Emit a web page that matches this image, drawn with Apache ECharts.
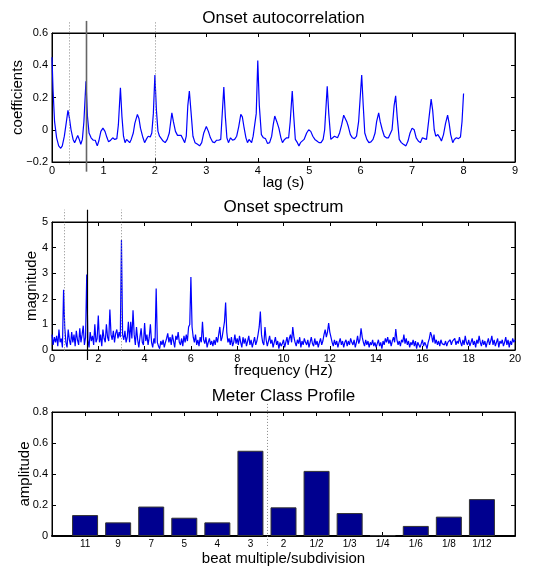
<!DOCTYPE html>
<html>
<head>
<meta charset="utf-8">
<script src="https://cdn.jsdelivr.net/npm/echarts@6/dist/echarts.min.js"></script>
<style>html,body{margin:0;padding:0;background:#fff}#c{width:542px;height:567px}</style>
</head>
<body>
<div id="c"></div>
<script>
// ---- Onset autocorrelation (lag in s, coefficient) ----
const acLag = [0.00,0.02,0.05,0.09,0.13,0.17,0.20,0.24,0.28,0.31,0.34,0.37,0.41,0.44,0.47,0.50,0.53,0.56,0.59,0.62,0.66,0.69,0.72,0.76,0.80,0.84,0.88,0.91,0.95,0.99,
1.03,1.07,1.10,1.14,1.18,1.22,1.26,1.29,1.33,1.36,1.39,1.42,1.45,1.48,1.51,1.54,1.58,1.61,1.66,1.69,1.72,1.76,1.80,1.84,1.87,1.91,1.94,1.97,2.00,
2.03,2.06,2.09,2.12,2.16,2.20,2.24,2.28,2.33,2.36,2.40,2.44,2.47,2.51,2.55,2.58,2.61,2.64,2.67,2.70,2.74,2.78,2.83,2.87,2.91,2.95,3.00,
3.04,3.08,3.12,3.16,3.20,3.24,3.28,3.30,3.34,3.37,3.40,3.43,3.47,3.51,3.55,3.59,3.63,3.67,3.70,3.73,3.77,3.80,3.83,3.86,3.88,3.91,3.94,3.97,4.00,
4.03,4.07,4.11,4.15,4.19,4.23,4.27,4.30,4.33,4.37,4.41,4.45,4.48,4.52,4.56,4.60,4.63,4.67,4.70,4.73,4.77,4.80,4.83,4.86,4.90,4.95,4.99,
5.03,5.07,5.11,5.15,5.19,5.23,5.27,5.30,5.35,5.38,5.42,5.45,5.49,5.52,5.55,5.59,5.63,5.67,5.70,5.73,5.76,5.80,5.84,5.88,5.92,5.96,6.02,
6.05,6.08,6.12,6.16,6.20,6.24,6.28,6.31,6.35,6.38,6.42,6.46,6.50,6.54,6.57,6.61,6.65,6.68,6.71,6.75,6.79,6.83,6.88,6.92,6.96,7.00,
7.04,7.08,7.12,7.16,7.20,7.24,7.28,7.32,7.37,7.40,7.43,7.46,7.50,7.54,7.57,7.61,7.65,7.69,7.72,7.75,7.79,7.82,7.86,7.90,7.94,7.97,8.00];
const acCoef = [0.45,0.25,0.05,-0.05,-0.10,-0.115,-0.10,-0.04,0.05,0.12,0.07,0.0,-0.06,-0.08,-0.075,-0.035,-0.06,-0.09,-0.06,0.05,0.30,0.08,-0.02,-0.05,-0.065,-0.065,-0.10,-0.07,-0.01,0.01,
-0.01,-0.05,-0.075,-0.065,-0.05,-0.06,-0.055,0.03,0.26,0.08,-0.04,-0.08,-0.06,-0.05,-0.08,-0.06,-0.02,0.04,0.095,0.07,0.01,-0.04,-0.08,-0.055,-0.04,-0.045,-0.02,0.10,0.34,
0.12,-0.01,-0.04,-0.05,-0.07,-0.08,-0.06,-0.02,0.105,0.05,-0.01,-0.035,-0.04,-0.035,-0.06,-0.08,-0.04,0.15,0.24,0.12,-0.04,-0.08,-0.09,-0.10,-0.08,-0.02,0.02,
-0.01,-0.05,-0.075,-0.08,-0.065,-0.065,-0.06,0.05,0.265,0.08,-0.05,-0.08,-0.05,-0.065,-0.06,-0.04,0.02,0.095,0.08,0.02,-0.05,-0.08,-0.06,-0.05,-0.08,-0.04,-0.05,0.10,0.43,
0.15,-0.03,-0.05,-0.055,-0.085,-0.08,-0.04,0.03,0.085,0.05,0.01,-0.05,-0.08,-0.06,-0.05,-0.05,0.05,0.24,0.08,-0.06,-0.08,-0.10,-0.08,-0.09,-0.06,-0.02,0.0,
-0.01,-0.04,-0.06,-0.07,-0.08,-0.08,-0.06,0.0,0.27,0.10,-0.06,-0.07,-0.04,-0.05,-0.05,-0.02,0.03,0.09,0.09,0.05,0.02,-0.03,-0.05,-0.055,-0.04,0.05,0.34,
0.15,-0.02,-0.06,-0.08,-0.075,-0.06,-0.02,0.05,0.105,0.05,0.0,-0.04,-0.05,-0.05,-0.06,0.0,0.15,0.21,0.08,-0.06,-0.08,-0.09,-0.10,-0.07,-0.02,0.01,
0.0,-0.05,-0.07,-0.08,-0.05,-0.055,-0.06,0.05,0.19,0.12,0.0,-0.04,-0.03,-0.05,-0.07,-0.03,0.04,0.09,0.04,-0.03,-0.08,-0.06,-0.05,-0.055,-0.045,0.05,0.225];
const acMarkerLags = [0.333, 2.0];   // dotted
const acBeatLag = 0.66;              // solid

// ---- Onset spectrum (0..20 Hz, step 0.05 Hz) ----
const specStep = 0.05;
const specMag = [
0.6,0.2,0.5,0.3,0.55,0.15,0.8,0.3,0.45,0.1,2.35,0.9,0.3,0.1,0.8,0.4,0.2,0.7,0.3,0.6,
0.15,0.75,0.4,0.2,0.85,0.3,0.6,0.95,0.2,0.5,2.95,0.4,0.1,0.7,0.35,0.55,0.2,1.0,0.3,0.45,
1.35,0.3,0.6,0.15,0.8,0.45,0.3,1.0,0.5,0.35,1.58,0.6,0.4,0.75,0.3,0.65,0.8,0.45,0.7,0.5,
4.3,0.6,0.4,0.75,0.3,0.5,1.1,0.3,1.1,0.45,1.55,0.6,0.2,0.9,0.4,0.1,0.5,0.85,0.3,0.2,
1.05,0.35,0.6,0.2,0.5,1.0,0.3,0.1,0.45,0.25,2.4,0.3,0.15,0.05,0.35,0.2,0.4,0.1,0.3,0.45,
0.65,0.3,0.5,0.2,0.6,0.35,0.1,0.55,0.4,0.7,0.3,0.2,0.45,0.15,0.55,0.3,0.6,0.35,0.9,1.0,
2.85,0.9,0.5,0.3,0.6,0.2,0.4,0.15,0.5,0.3,1.1,0.4,0.25,0.5,0.1,0.3,0.45,0.2,0.35,0.15,
0.4,0.2,0.5,0.3,0.6,0.9,0.35,0.5,0.8,1.1,1.85,0.7,0.3,0.45,0.2,0.5,0.15,0.3,0.6,0.25,
0.45,0.2,0.55,0.3,0.1,0.5,0.25,0.45,0.15,0.35,0.55,0.2,0.4,0.1,0.3,0.5,0.2,0.35,0.6,0.9,
1.5,0.6,0.3,0.2,0.9,0.4,0.15,0.35,0.55,0.25,0.4,0.1,0.3,0.5,0.2,0.35,0.05,0.3,0.15,0.25,
0.4,0.1,0.3,0.5,0.2,0.45,0.6,0.3,0.9,0.5,0.3,0.15,0.4,0.25,0.5,0.1,0.35,0.2,0.45,0.3,
0.2,0.4,0.1,0.3,0.5,0.25,0.15,0.45,0.2,0.35,0.1,0.3,0.45,0.2,0.35,0.6,0.8,0.5,0.7,1.05,
0.7,0.5,0.3,0.15,0.4,0.2,0.35,0.1,0.3,0.45,0.2,0.35,0.1,0.3,0.4,0.15,0.35,0.2,0.45,0.3,
0.2,0.4,0.1,0.3,0.55,0.25,0.4,0.85,0.5,0.3,0.15,0.4,0.2,0.35,0.1,0.3,0.2,0.4,0.15,0.3,
0.1,0.25,0.4,0.15,0.3,0.05,0.35,0.2,0.45,0.3,0.5,0.25,0.4,0.15,0.35,0.5,0.3,0.82,0.4,0.2,
0.35,0.15,0.4,0.3,0.6,0.25,0.45,0.2,0.35,0.1,0.3,0.2,0.4,0.15,0.35,0.05,0.3,0.2,0.1,0.25,
0.4,0.15,0.3,0.2,0.05,0.3,0.45,0.7,0.55,0.3,0.6,0.25,0.4,0.2,0.35,0.15,0.4,0.25,0.3,0.2,
0.35,0.15,0.3,0.25,0.4,0.2,0.35,0.3,0.45,0.2,0.35,0.25,0.5,0.3,0.15,0.4,0.2,0.55,0.3,0.2,
0.4,0.15,0.3,0.45,0.2,0.35,0.1,0.4,0.25,0.55,0.3,0.15,0.4,0.2,0.35,0.1,0.3,0.45,0.2,0.35,
0.55,0.2,0.4,0.15,0.3,0.45,0.1,0.35,0.25,0.4,0.15,0.3,0.5,0.2,0.4,0.1,0.35,0.2,0.45,0.3,
0.4];
const specMarkerFreqs = [0.5, 3.0];  // dotted
const specBeatFreq = 1.5;            // solid

// ---- Meter Class Profile ----
const meterLabels = ['11','9','7','5','4','3','2','1/2','1/3','1/4','1/6','1/8','1/12'];
const meterAmp = [0.135,0.088,0.19,0.118,0.088,0.55,0.185,0.42,0.148,0.005,0.065,0.125,0.238];
const meterDivider = 6.5;

const FONT = 'Liberation Sans, Arial, Helvetica, sans-serif';
const GL = 52, GW = 463;
const grids = [
  {left: GL, top: 33, width: GW, height: 129},
  {left: GL, top: 222, width: GW, height: 128},
  {left: GL, top: 412, width: GW, height: 125}
].map(g => Object.assign(g, {show: true, borderColor: '#000', borderWidth: 1, backgroundColor: 'transparent'}));

const minusFmt = v => String(+v.toFixed(2)).replace('-', '\u2212');
const lbl = {color: '#000', fontSize: 11, fontFamily: FONT};
const tick = {show: true, inside: true, length: 4, lineStyle: {color: '#000', width: 1}};
const axLine = {show: true, onZero: false, lineStyle: {color: '#000', width: 1}};
const nameStyle = {color: '#000', fontSize: 15, fontFamily: FONT};
const titleStyle = {color: '#000', fontSize: 17, fontFamily: FONT};

function xPair(gi, min, max, interval, name, nameGap, title, titleGap, fmt) {
  return [
    {type: 'value', gridIndex: gi, min, max, interval, position: 'bottom',
     axisLine: axLine, axisTick: tick, splitLine: {show: false},
     axisLabel: Object.assign({}, lbl, {margin: 3}, fmt ? {formatter: fmt} : {}),
     name, nameLocation: 'middle', nameGap, nameMoveOverlap: false, nameTextStyle: nameStyle},
    {type: 'value', gridIndex: gi, min, max, interval, position: 'top',
     axisLine: axLine, axisTick: tick, splitLine: {show: false}, axisLabel: {show: false},
     name: title, nameLocation: 'middle', nameGap: titleGap, nameMoveOverlap: false, nameTextStyle: titleStyle}
  ];
}
function yPair(gi, min, max, interval, name, nameGap, fmt) {
  return [
    {type: 'value', gridIndex: gi, min, max, interval, position: 'left',
     axisLine: axLine, axisTick: tick, splitLine: {show: false},
     axisLabel: Object.assign({}, lbl, {margin: 4, formatter: fmt || (v => String(v))}),
     name, nameLocation: 'middle', nameGap, nameMoveOverlap: false, nameTextStyle: nameStyle},
    {type: 'value', gridIndex: gi, min, max, interval, position: 'right',
     axisLine: axLine, axisTick: tick, splitLine: {show: false}, axisLabel: {show: false}}
  ];
}

function vLine(xi, yi, xv, y0, y1, color, width, dash) {
  return {
    type: 'custom', xAxisIndex: xi, yAxisIndex: yi, clip: false, silent: true, z: 5,
    data: [[xv, y0, y1]],
    renderItem: (p, api) => {
      const a = api.coord([api.value(0), api.value(1)]);
      const b = api.coord([api.value(0), api.value(2)]);
      return {type: 'line', shape: {x1: Math.round(a[0]) + 0.5, y1: a[1], x2: Math.round(a[0]) + 0.5, y2: b[1]},
        style: {stroke: color, lineWidth: width, lineDash: dash}};
    }
  };
}

const xAxis = [
  ...xPair(0, 0, 9, 1, 'lag (s)', 13, 'Onset autocorrelation', 6),
  ...xPair(1, 0, 20, 2, 'frequency (Hz)', 13, 'Onset spectrum', 6),
  ...xPair(2, 0, 14, 1, 'beat multiple/subdivision', 15, 'Meter Class Profile', 7,
           v => (v >= 1 && v <= meterLabels.length) ? meterLabels[v - 1] : '')
];
xAxis[4].axisLine = {show: true, onZero: false, lineStyle: {color: '#000', width: 2}};
xAxis[4].axisLabel.fontSize = 10;

const yAxis = [
  ...yPair(0, -0.2, 0.6, 0.2, 'coefficients', 27, minusFmt),
  ...yPair(1, 0, 5, 1, 'magnitude', 13),
  ...yPair(2, 0, 0.8, 0.2, 'amplitude', 20, minusFmt)
];

const series = [
  {type: 'line', xAxisIndex: 0, yAxisIndex: 0, showSymbol: false, silent: true,
   data: acLag.map((t, i) => [t, acCoef[i]]),
   lineStyle: {color: '#0000ff', width: 1.2}, itemStyle: {color: '#0000ff'}},
  {type: 'line', xAxisIndex: 2, yAxisIndex: 2, showSymbol: false, silent: true,
   data: specMag.map((m, i) => [i * specStep, m]),
   lineStyle: {color: '#0000ff', width: 1.2}, itemStyle: {color: '#0000ff'}},
  {type: 'bar', xAxisIndex: 4, yAxisIndex: 4, silent: true, barWidth: 26,
   data: meterAmp.map((a, i) => [i + 1, a]),
   itemStyle: {color: '#00008f', borderColor: '#333', borderWidth: 1}},
  ...acMarkerLags.map(l => vLine(0, 0, l, -0.215, 0.675, '#888', 1, [1, 2])),
  vLine(0, 0, acBeatLag, -0.26, 0.675, '#666', 1.6, null),
  ...specMarkerFreqs.map(f => vLine(2, 2, f, -0.05, 5.48, '#888', 1, [1, 2])),
  vLine(2, 2, specBeatFreq, -0.39, 5.48, '#000', 1.2, null),
  vLine(4, 4, meterDivider, -0.064, 0.858, '#888', 1, [1, 2])
];

const chart = echarts.init(document.getElementById('c'), null, {renderer: 'canvas'});
chart.setOption({
  animation: false,
  backgroundColor: '#fff',
  textStyle: {fontFamily: FONT},
  grid: grids,
  xAxis, yAxis, series
});
</script>
</body>
</html>
